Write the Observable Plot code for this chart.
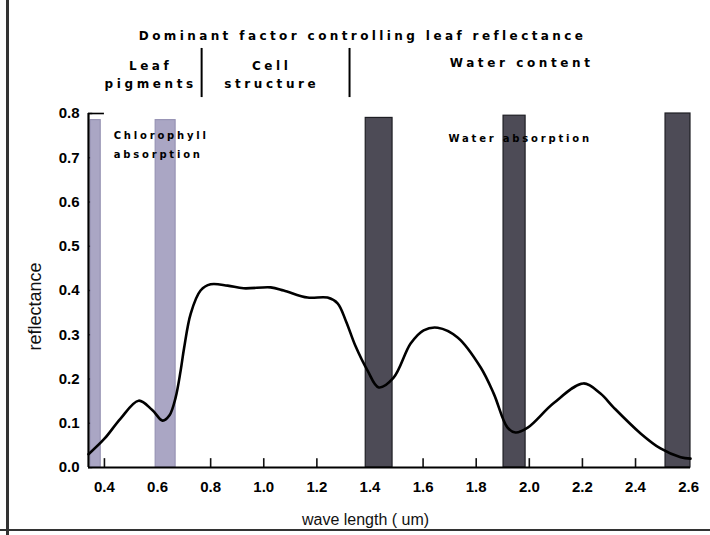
<!DOCTYPE html>
<html>
<head>
<meta charset="utf-8">
<script src="https://cdn.jsdelivr.net/npm/d3@7"></script>
<script src="https://cdn.jsdelivr.net/npm/@observablehq/plot@0.6"></script>
<style>
  html, body { margin: 0; padding: 0; background: #fff; }
  #wrap { position: relative; width: 710px; height: 535px; overflow: hidden; }
  #wrap::before { content: ""; position: absolute; left: 6px; top: 0; width: 3px; height: 535px; background: #333; }
  #wrap::after { content: ""; position: absolute; left: 0; top: 529px; width: 710px; height: 2px; background: #333; }
</style>
</head>
<body>
<div id="wrap"></div>
<script>
// Leaf reflectance curve (wavelength in µm, reflectance)
const wavelength = [0.34, 0.40, 0.46, 0.529, 0.58, 0.619, 0.645, 0.668, 0.687, 0.70, 0.725, 0.762, 0.80, 0.864, 0.924, 1.026, 1.075, 1.165, 1.24, 1.278, 1.31, 1.345, 1.391, 1.433, 1.489, 1.553, 1.602, 1.655, 1.73, 1.817, 1.866, 1.918, 1.948, 1.994, 2.091, 2.204, 2.268, 2.317, 2.419, 2.494, 2.57, 2.607];
const reflectance = [0.03, 0.065, 0.11, 0.151, 0.13, 0.106, 0.118, 0.158, 0.219, 0.27, 0.348, 0.40, 0.414, 0.411, 0.405, 0.407, 0.40, 0.384, 0.384, 0.371, 0.33, 0.275, 0.219, 0.181, 0.203, 0.28, 0.31, 0.316, 0.294, 0.226, 0.167, 0.09, 0.079, 0.09, 0.145, 0.19, 0.167, 0.136, 0.077, 0.043, 0.023, 0.02];

// Absorption bands
const bandStart = [0.348, 0.593, 1.384, 1.903, 2.513];
const bandEnd   = [0.386, 0.668, 1.485, 1.986, 2.607];
const bandTop   = [0.785, 0.785, 0.79, 0.795, 0.80];
const bandKind  = ["chlorophyll", "chlorophyll", "water", "water", "water"];

// Tick values
const xTicks = [0.4, 0.6, 0.8, 1.0, 1.2, 1.4, 1.6, 1.8, 2.0, 2.2, 2.4, 2.6];
const yTicks = [0.0, 0.1, 0.2, 0.3, 0.4, 0.5, 0.6, 0.7, 0.8];
const xDomain = [0.34, 2.607];

// Annotations (anchored in data units)
const titleText = ["Dominant factor controlling leaf reflectance"];
const titleAt = [1.372, 0.974];
const headerText = ["Leaf", "pigments", "Cell", "structure", "Water content"];
const headerWl   = [0.574, 0.574, 1.03, 1.03, 1.971];
const headerRf   = [0.908, 0.866, 0.908, 0.866, 0.914];
const dividerWl = [0.766, 1.323];
const dividerRange = [0.836, 0.947];
const bandLabelText = ["Chlorophyll", "absorption", "Water absorption"];
const bandLabelWl   = [0.435, 0.435, 1.696];
const bandLabelRf   = [0.750, 0.707, 0.743];

const curve = wavelength.map((w, i) => ({w, r: reflectance[i]}));
const bands = bandStart.map((s, i) => ({s, e: bandEnd[i], top: bandTop[i], kind: bandKind[i]}));
const headers = headerText.map((t, i) => ({t, w: headerWl[i], r: headerRf[i]}));
const bandLabels = bandLabelText.map((t, i) => ({t, w: bandLabelWl[i], r: bandLabelRf[i]}));

const heavy = "DejaVu Sans, Verdana, sans-serif";

const chart = Plot.plot({
  width: 710,
  height: 535,
  marginLeft: 88,
  marginRight: 20,
  marginTop: 113,
  marginBottom: 68,
  x: {domain: xDomain},
  y: {domain: [0, 0.8]},
  style: {fontFamily: "Liberation Sans, Arial, sans-serif", background: "transparent", overflow: "visible"},
  marks: [
    // inward ticks
    Plot.ruleX(xTicks, {y1: 0, y2: 0.02, stroke: "#111", strokeWidth: 1.6}),
    Plot.ruleY(yTicks, {x1: xDomain[0], x2: xDomain[0] + 0.016, stroke: "#111", strokeWidth: 1.4}),
    // absorption bands
    Plot.rectY(bands, {x1: "s", x2: "e", y1: 0, y2: "top",
      fill: d => d.kind === "water" ? "#4d4b56" : "#aaa6c4",
      stroke: d => d.kind === "water" ? "#1e1e24" : "#9793b4",
      strokeWidth: 1.2}),
    // band labels
    Plot.text(bandLabels, {x: "w", y: "r", text: "t", textAnchor: "start", fontFamily: heavy, fontWeight: "bold", fontSize: 10, fill: "#000"}),
    // reflectance curve
    Plot.line(curve, {x: "w", y: "r", curve: "catmull-rom", stroke: "#000", strokeWidth: 2.6}),
    // axis lines
    Plot.ruleX([xDomain[0]], {y1: 0, y2: 0.8, stroke: "#000", strokeWidth: 2.2}),
    Plot.ruleY([0], {x1: xDomain[0], x2: xDomain[1], stroke: "#000", strokeWidth: 2.2}),
    Plot.ruleY([0.8], {x1: xDomain[0], x2: xDomain[0] + 0.06, stroke: "#000", strokeWidth: 1.6}),
    // tick labels
    Plot.axisX({ticks: xTicks, tickSize: 0, tickPadding: 14, tickFormat: d3.format(".1f"), fontSize: 15, fontWeight: "bold", label: null, fill: "#000"}),
    Plot.axisY({ticks: yTicks, tickSize: 0, tickPadding: 9, tickFormat: d3.format(".1f"), fontSize: 15, fontWeight: "bold", label: null, fill: "#000"}),
    // axis titles
    Plot.text(["wave length ( um)"], {frameAnchor: "bottom", dx: -24, dy: 57, fontSize: 16, fill: "#111"}),
    Plot.text(["reflectance"], {frameAnchor: "left", rotate: -90, dx: -53, dy: 60, fontSize: 18, fontWeight: 500, fill: "#111"}),
    // header
    Plot.text(titleText, {x: () => titleAt[0], y: () => titleAt[1], text: d => d, fontFamily: heavy, fontWeight: "bold", fontSize: 12, fill: "#000"}),
    Plot.text(headers, {x: "w", y: "r", text: "t", fontFamily: heavy, fontWeight: "bold", fontSize: 12, fill: "#000"}),
    Plot.ruleX(dividerWl, {y1: dividerRange[0], y2: dividerRange[1], stroke: "#000", strokeWidth: 2})
  ]
});

// widen letter spacing of the header and band labels as in the reference
const spaced = new Map([
  ...titleText.map(t => [t, 3.4]),
  ...headerText.map(t => [t, 3.6]),
  ...bandLabelText.map(t => [t, 2.8])
]);
d3.select(chart).selectAll("text").each(function() {
  const s = spaced.get(this.textContent);
  if (s != null) this.setAttribute("letter-spacing", s);
});

document.getElementById("wrap").appendChild(chart);
</script>
</body>
</html>
